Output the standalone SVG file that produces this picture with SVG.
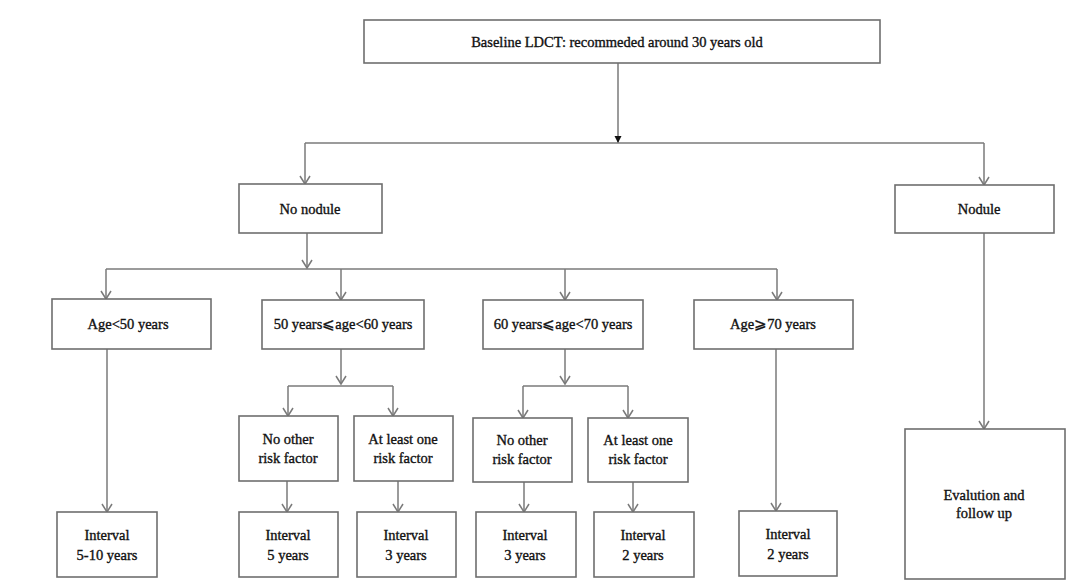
<svg xmlns="http://www.w3.org/2000/svg" width="1080" height="587" viewBox="0 0 1080 587">
<style>
.box{fill:#fff;stroke:#6e6e6e;stroke-width:1.6}
.ln{fill:none;stroke:#7a7a7a;stroke-width:1.5}
.t{font-family:"Liberation Serif","Times New Roman","DejaVu Serif",serif;font-size:14.5px;fill:#111;stroke:#111;stroke-width:0.35;text-anchor:middle}
</style>
<defs>
<marker id="v" markerUnits="userSpaceOnUse" markerWidth="12" markerHeight="12" viewBox="-10 -6 12 12" refX="0" refY="0" orient="auto">
<path d="M-8,-5 L0,0 L-8,5" fill="none" stroke="#7a7a7a" stroke-width="1.5"/>
</marker>
<marker id="f" markerUnits="userSpaceOnUse" markerWidth="10" markerHeight="10" viewBox="-8 -5 10 10" refX="0" refY="0" orient="auto">
<path d="M-7,-3.5 L0,0 L-7,3.5 Z" fill="#111"/>
</marker>
</defs>
<rect width="1080" height="587" fill="#fff"/>
<g id="connectors">
<path class="ln" d="M618,63 V143" marker-end="url(#f)"/>
<path class="ln" d="M305,143 H984"/>
<path class="ln" d="M305,143 V184" marker-end="url(#v)"/>
<path class="ln" d="M984,143 V185" marker-end="url(#v)"/>
<path class="ln" d="M307,233 V268" marker-end="url(#v)"/>
<path class="ln" d="M106,269 H777"/>
<path class="ln" d="M106,269 V299" marker-end="url(#v)"/>
<path class="ln" d="M341,269 V300" marker-end="url(#v)"/>
<path class="ln" d="M565,269 V300" marker-end="url(#v)"/>
<path class="ln" d="M777,269 V300" marker-end="url(#v)"/>
<path class="ln" d="M107,349 V512" marker-end="url(#v)"/>
<path class="ln" d="M341,349 V384" marker-end="url(#v)"/>
<path class="ln" d="M288,386 H393"/>
<path class="ln" d="M288,386 V416" marker-end="url(#v)"/>
<path class="ln" d="M393,386 V416" marker-end="url(#v)"/>
<path class="ln" d="M565,349 V384" marker-end="url(#v)"/>
<path class="ln" d="M523,386 H628"/>
<path class="ln" d="M523,386 V418" marker-end="url(#v)"/>
<path class="ln" d="M628,386 V418" marker-end="url(#v)"/>
<path class="ln" d="M287,481 V512" marker-end="url(#v)"/>
<path class="ln" d="M398,481 V512" marker-end="url(#v)"/>
<path class="ln" d="M524,482 V512" marker-end="url(#v)"/>
<path class="ln" d="M633,482 V512" marker-end="url(#v)"/>
<path class="ln" d="M776,349 V511" marker-end="url(#v)"/>
<path class="ln" d="M984,233 V429" marker-end="url(#v)"/>
</g>
<g id="n-baseline"><rect class="box" x="364" y="20" width="516" height="43"/><text class="t" x="617" y="47">Baseline LDCT: recommeded around 30 years old</text></g>
<g id="n-nonodule"><rect class="box" x="239" y="184" width="143" height="49"/><text class="t" x="310" y="214">No nodule</text></g>
<g id="n-nodule"><rect class="box" x="895" y="185" width="159" height="48"/><text class="t" x="979" y="214">Nodule</text></g>
<g id="n-age50"><rect class="box" x="52" y="299" width="159" height="50"/><text class="t" x="128" y="329">Age&lt;50 years</text></g>
<g id="n-age5060"><rect class="box" x="262" y="300" width="162" height="49"/><text class="t" x="343" y="329">50 years⩽age&lt;60 years</text></g>
<g id="n-age6070"><rect class="box" x="483" y="300" width="160" height="49"/><text class="t" x="563" y="329">60 years⩽age&lt;70 years</text></g>
<g id="n-age70"><rect class="box" x="694" y="300" width="159" height="49"/><text class="t" x="773" y="329">Age⩾70 years</text></g>
<g id="n-norisk1"><rect class="box" x="239" y="416" width="99" height="65"/><text class="t" x="288" y="444">No other</text><text class="t" x="288" y="463">risk factor</text></g>
<g id="n-onerisk1"><rect class="box" x="354" y="416" width="99" height="65"/><text class="t" x="403" y="444">At least one</text><text class="t" x="403" y="463">risk factor</text></g>
<g id="n-norisk2"><rect class="box" x="473" y="418" width="99" height="64"/><text class="t" x="522" y="445">No other</text><text class="t" x="522" y="464">risk factor</text></g>
<g id="n-onerisk2"><rect class="box" x="588" y="418" width="100" height="64"/><text class="t" x="638" y="445">At least one</text><text class="t" x="638" y="464">risk factor</text></g>
<g id="n-int510"><rect class="box" x="57" y="512" width="100" height="65"/><text class="t" x="107" y="540">Interval</text><text class="t" x="107" y="560">5-10 years</text></g>
<g id="n-int5"><rect class="box" x="239" y="512" width="99" height="65"/><text class="t" x="288" y="540">Interval</text><text class="t" x="288" y="560">5 years</text></g>
<g id="n-int3a"><rect class="box" x="357" y="512" width="99" height="65"/><text class="t" x="406" y="540">Interval</text><text class="t" x="406" y="560">3 years</text></g>
<g id="n-int3b"><rect class="box" x="476" y="512" width="100" height="65"/><text class="t" x="525" y="540">Interval</text><text class="t" x="525" y="560">3 years</text></g>
<g id="n-int2a"><rect class="box" x="594" y="512" width="100" height="65"/><text class="t" x="643" y="540">Interval</text><text class="t" x="643" y="560">2 years</text></g>
<g id="n-int2b"><rect class="box" x="739" y="511" width="98" height="65"/><text class="t" x="788" y="539">Interval</text><text class="t" x="788" y="559">2 years</text></g>
<g id="n-eval"><rect class="box" x="905" y="429" width="160" height="150"/><text class="t" x="984" y="500">Evalution and</text><text class="t" x="984" y="518">follow up</text></g>
</svg>
